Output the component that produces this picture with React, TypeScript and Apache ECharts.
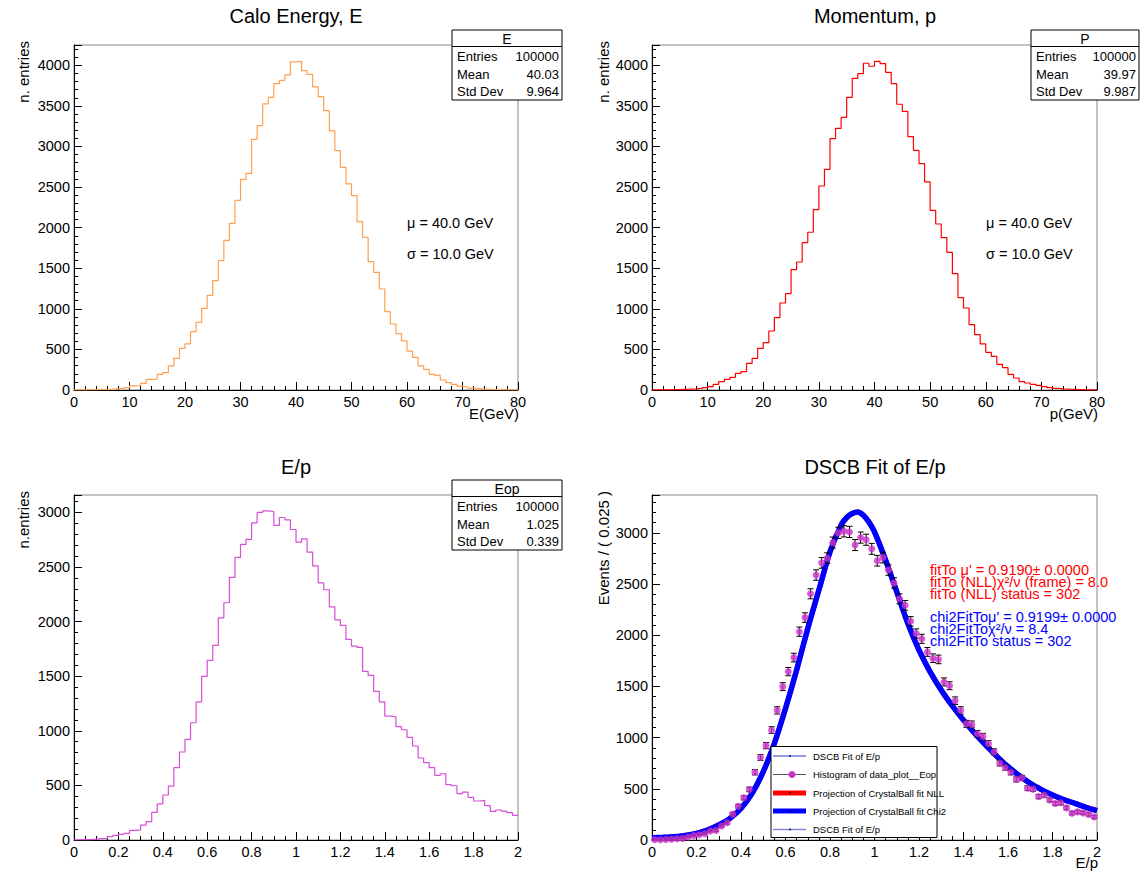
import React, { useEffect, useRef } from "react";
import * as echarts from "echarts";

// ---------- data ----------
// Calo Energy E: 80 bins, 0..80 GeV
const eCounts = [1, 2, 3, 5, 6, 9, 12, 16, 20, 30, 50, 55, 82, 131, 135, 193, 213, 296, 390, 513,
  567, 719, 834, 1006, 1166, 1347, 1593, 1844, 2053, 2337, 2595, 2669, 3088, 3257, 3524, 3606, 3774, 3815, 3881, 4041,
  4049, 3934, 3889, 3733, 3614, 3441, 3191, 2949, 2743, 2538, 2394, 2074, 1881, 1581, 1450, 1244, 965, 813, 694, 604,
  480, 402, 296, 255, 193, 181, 123, 90, 70, 45, 37, 20, 16, 12, 8, 6, 4, 3, 2, 1];
// Momentum p: 80 bins, 0..80 GeV
const pCounts = [1, 2, 3, 4, 6, 8, 10, 14, 20, 29, 41, 70, 103, 131, 156, 205, 226, 329, 390, 513,
  583, 727, 891, 1072, 1187, 1483, 1577, 1815, 1943, 2222, 2513, 2719, 3097, 3224, 3359, 3606, 3840, 3897, 4025, 3988,
  4049, 4021, 3914, 3774, 3520, 3433, 3121, 2953, 2789, 2563, 2214, 2045, 1877, 1696, 1433, 1138, 1010, 805, 682, 567,
  464, 415, 316, 275, 193, 148, 103, 86, 70, 57, 41, 29, 20, 14, 10, 7, 5, 3, 2, 1];
// E/p: 80 bins, 0..2
const eopCounts = [2, 3, 4, 8, 12, 14, 30, 43, 52, 61, 88, 92, 137, 168, 253, 330, 412, 494, 662, 806,
  922, 1074, 1266, 1498, 1645, 1782, 2035, 2173, 2405, 2588, 2707, 2753, 2905, 3000, 3015, 3009, 2881, 2954, 2933, 2844,
  2728, 2759, 2637, 2511, 2356, 2292, 2136, 2017, 1965, 1837, 1776, 1764, 1544, 1507, 1361, 1266, 1135, 1129, 1038, 1010,
  940, 861, 751, 708, 662, 592, 607, 507, 497, 424, 439, 391, 357, 363, 314, 262, 275, 265, 250, 226];
// DSCB fit curve
const fitX = [0, 0.05, 0.1, 0.15, 0.2, 0.25, 0.3, 0.35, 0.4, 0.45, 0.5, 0.55, 0.6, 0.65, 0.7, 0.75, 0.8, 0.85,
  0.875, 0.9, 0.925, 0.95, 0.975, 1.0, 1.05, 1.1, 1.15, 1.2, 1.25, 1.3, 1.35, 1.4, 1.45, 1.5, 1.55, 1.6, 1.65,
  1.7, 1.75, 1.8, 1.85, 1.9, 1.95, 2.0];
const fitY = [23, 27, 33, 45, 65, 98, 146, 211, 309, 456, 667, 944, 1285, 1660, 2066, 2441, 2815, 3075,
  3150, 3189, 3205, 3173, 3105, 3010, 2733, 2424, 2115, 1855, 1643, 1464, 1310, 1171, 1043, 927, 817, 716, 630,
  553, 492, 439, 395, 358, 320, 286];

const titles = ["Calo Energy, E", "Momentum, p", "E/p", "DSCB Fit of E/p"];
const statsE = ["E", "100000", "40.03", "9.964"];
const statsP = ["P", "100000", "39.97", "9.987"];
const statsEop = ["Eop", "100000", "1.025", "0.339"];
const statLabels = ["Entries", "Mean", "Std Dev"];
const fitToLines = ["fitTo μ' = 0.9190± 0.0000", "fitTo (NLL)χ²/ν (frame) = 8.0", "fitTo (NLL) status = 302"];
const chi2Lines = ["chi2FitToμ' = 0.9199± 0.0000", "chi2FitToχ²/ν = 8.4", "chi2FitTo status = 302"];
const legendLabels = ["DSCB Fit of E/p", "Histogram of data_plot__Eop", "Projection of CrystalBall fit NLL",
  "Projection of CrystalBall fit Chi2", "DSCB Fit of E/p"];

const F = "'Liberation Sans', Arial, Helvetica, sans-serif";

function histData(counts: number[], xmin: number, w: number) {
  const d = counts.map((c, i) => [xmin + i * w, c]);
  d.push([xmin + counts.length * w, counts[counts.length - 1]]);
  return d;
}

function txt(x: number, y: number, text: string, o: any = {}) {
  const align = o.align || "left";
  const va = o.va || "middle";
  const style: any = {
    text, fill: o.color || "#000", fontSize: o.size || 14, fontFamily: F,
    align, verticalAlign: va, textAlign: align, textVerticalAlign: va,
  };
  if (o.lineHeight) style.lineHeight = o.lineHeight;
  return { type: "text", x, y, rotation: o.rotation || 0, z: 100, style };
}

function statsBox(left: number, top: number, right: number, vals: string[]) {
  const els: any[] = [];
  els.push({ type: "rect", z: 90, shape: { x: left, y: top, width: right - left, height: 70 },
    style: { fill: "#fff", stroke: "#000", lineWidth: 1 } });
  els.push({ type: "line", z: 91, shape: { x1: left, y1: top + 16.5, x2: right, y2: top + 16.5 },
    style: { stroke: "#000", lineWidth: 1 } });
  els.push(txt((left + right) / 2, top + 8.5, vals[0], { align: "center", size: 14 }));
  statLabels.forEach((l, i) => {
    els.push(txt(left + 5, top + 26.5 + i * 17.5, l, { size: 13 }));
    els.push(txt(right - 3, top + 26.5 + i * 17.5, vals[i + 1], { size: 13, align: "right" }));
  });
  return els;
}

function axisCommon(minorSplit: number) {
  return {
    axisLine: { show: true, onZero: false, lineStyle: { color: "#000", width: 1 } },
    axisTick: { show: true, inside: true, length: 8, lineStyle: { color: "#000" } },
    minorTick: { show: true, splitNumber: minorSplit, length: 4, lineStyle: { color: "#000" } },
    splitLine: { show: false },
    minorSplitLine: { show: false },
    axisLabel: { color: "#000", fontSize: 14.5, fontFamily: F, margin: 4, showMaxLabel: true,
      formatter: (v: number) => String(Math.round(v * 1000) / 1000) },
  };
}

export default function App() {
  const ref = useRef<HTMLDivElement>(null);
  useEffect(() => {
    if (!ref.current) return;
    const chart = echarts.init(ref.current, null, { renderer: "svg" });

    const grids = [
      { left: 74, top: 45, width: 444, height: 345 },
      { left: 652, top: 45, width: 445, height: 345 },
      { left: 74, top: 495, width: 444, height: 345 },
      { left: 652, top: 495, width: 445, height: 345 },
    ].map((g) => ({ ...g, show: true, borderColor: "#888", borderWidth: 1, backgroundColor: "transparent" }));

    const xAxes = [
      { gridIndex: 0, type: "value", min: 0, max: 80, interval: 10, ...axisCommon(5) },
      { gridIndex: 1, type: "value", min: 0, max: 80, interval: 10, ...axisCommon(5) },
      { gridIndex: 2, type: "value", min: 0, max: 2, interval: 0.2, ...axisCommon(4) },
      { gridIndex: 3, type: "value", min: 0, max: 2, interval: 0.2, ...axisCommon(4) },
    ];
    const yMaxes = [4250, 4250, 3160, 3370];
    const yAxes = yMaxes.map((m, i) => {
      const c: any = axisCommon(5);
      c.axisLabel = { ...c.axisLabel, showMaxLabel: false };
      return { gridIndex: i, type: "value", min: 0, max: m, interval: 500, ...c };
    });

    const pts = eopCounts.map((c, i) => [(i + 0.5) * 0.025, c, Math.sqrt(c)]);
    const fitData = fitX.map((x, i) => [x, fitY[i]]);

    const series: any[] = [
      { type: "line", xAxisIndex: 0, yAxisIndex: 0, step: "end", showSymbol: false, data: histData(eCounts, 0, 1),
        lineStyle: { color: "#ffa050", width: 1.2 }, silent: true },
      { type: "line", xAxisIndex: 1, yAxisIndex: 1, step: "end", showSymbol: false, data: histData(pCounts, 0, 1),
        lineStyle: { color: "#ff0000", width: 1.2 }, silent: true },
      { type: "line", xAxisIndex: 2, yAxisIndex: 2, step: "end", showSymbol: false, data: histData(eopCounts, 0, 0.025),
        lineStyle: { color: "#d64fd6", width: 1.2 }, silent: true },
      { type: "line", xAxisIndex: 3, yAxisIndex: 3, smooth: 0.3, showSymbol: false, data: fitData,
        lineStyle: { color: "#ff0000", width: 5 }, silent: true, z: 2 },
      { type: "line", xAxisIndex: 3, yAxisIndex: 3, smooth: 0.3, showSymbol: false, data: fitData,
        lineStyle: { color: "#0000ff", width: 5.5 }, silent: true, z: 3 },
      { type: "custom", xAxisIndex: 3, yAxisIndex: 3, data: pts, z: 4, silent: true,
        renderItem: (params: any, api: any) => {
          const x = api.value(0), y = api.value(1), e = api.value(2);
          const t = api.coord([x, y + e]);
          const b = api.coord([x, y - e]);
          const st = { stroke: "#000", lineWidth: 1 };
          return { type: "group", children: [
            { type: "line", shape: { x1: t[0], y1: t[1], x2: b[0], y2: b[1] }, style: st },
            { type: "line", shape: { x1: t[0] - 3, y1: t[1], x2: t[0] + 3, y2: t[1] }, style: st },
            { type: "line", shape: { x1: b[0] - 3, y1: b[1], x2: b[0] + 3, y2: b[1] }, style: st },
          ] };
        } },
      { type: "scatter", xAxisIndex: 3, yAxisIndex: 3, data: pts.map((p) => [p[0], p[1]]), symbol: "circle",
        symbolSize: 7, itemStyle: { color: "#cc33cc" }, z: 5, silent: true },
    ];

    const g: any[] = [];
    // titles
    g.push(txt(296, 16, titles[0], { align: "center", size: 20 }));
    g.push(txt(875, 16, titles[1], { align: "center", size: 20 }));
    g.push(txt(296, 467, titles[2], { align: "center", size: 20 }));
    g.push(txt(875, 467, titles[3], { align: "center", size: 20 }));
    // y-axis titles
    g.push(txt(23, 41, "n. entries", { align: "right", size: 15, rotation: Math.PI / 2 }));
    g.push(txt(603, 41, "n. entries", { align: "right", size: 15, rotation: Math.PI / 2 }));
    g.push(txt(23, 491, "n.entries", { align: "right", size: 15, rotation: Math.PI / 2 }));
    g.push(txt(603, 491, "Events / ( 0.025 )", { align: "right", size: 15, rotation: Math.PI / 2 }));
    // x-axis titles
    g.push(txt(519, 413, "E(GeV)", { align: "right", size: 15 }));
    g.push(txt(1098, 413, "p(GeV)", { align: "right", size: 15 }));
    g.push(txt(1098, 862, "E/p", { align: "right", size: 15 }));
    // annotations
    g.push(txt(407, 223, "μ = 40.0 GeV", { size: 14.5 }));
    g.push(txt(407, 254, "σ = 10.0 GeV", { size: 14.5 }));
    g.push(txt(986, 223, "μ = 40.0 GeV", { size: 14.5 }));
    g.push(txt(986, 254, "σ = 10.0 GeV", { size: 14.5 }));
    // stats boxes
    g.push(...statsBox(452, 30, 562, statsE));
    g.push(...statsBox(1031, 30, 1139, statsP));
    g.push(...statsBox(452, 480, 562, statsEop));
    // fit texts (one block each, tight line spacing as in the reference)
    g.push(txt(930, 564, fitToLines.join("\n"), { size: 14.5, color: "#ff0000", va: "top", lineHeight: 12 }));
    g.push(txt(930, 611, chi2Lines.join("\n"), { size: 14.5, color: "#0000ff", va: "top", lineHeight: 12 }));
    // legend
    g.push({ type: "rect", z: 95, shape: { x: 771, y: 746.5, width: 166, height: 91 },
      style: { fill: "#fff", stroke: "#000", lineWidth: 1 } });
    const rowsY = [756, 774.5, 793, 811, 829.5];
    const lineStyles = [
      { stroke: "#3333cc", lineWidth: 1 },
      { stroke: "#555", lineWidth: 1 },
      { stroke: "#ff0000", lineWidth: 5 },
      { stroke: "#0000ff", lineWidth: 5 },
      { stroke: "#8888dd", lineWidth: 1.5 },
    ];
    rowsY.forEach((y, i) => {
      g.push({ type: "line", z: 96, shape: { x1: 773, y1: y, x2: 806, y2: y }, style: lineStyles[i] });
      if (i === 1) {
        g.push({ type: "circle", z: 97, shape: { cx: 792, cy: y, r: 3.5 }, style: { fill: "#cc33cc" } });
      } else {
        g.push({ type: "circle", z: 97, shape: { cx: 790, cy: y, r: 0.8 }, style: { fill: "#000" } });
      }
      g.push(txt(813, y, legendLabels[i], { size: 9.5 }));
    });

    chart.setOption({
      animation: false,
      textStyle: { fontFamily: F },
      grid: grids,
      xAxis: xAxes,
      yAxis: yAxes,
      series,
      graphic: { elements: g },
    });
    return () => chart.dispose();
  }, []);
  return (
    <div ref={ref} style={{ position: "fixed", left: 0, top: 0, width: 1141, height: 871, background: "#fff" }} />
  );
}
